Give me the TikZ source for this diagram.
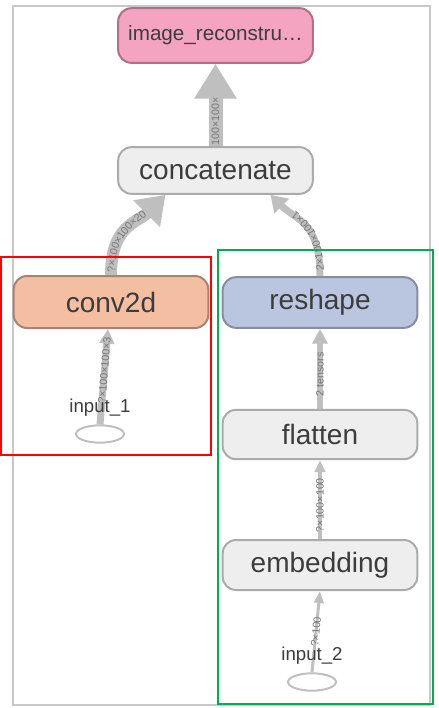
\documentclass[tikz,border=0pt]{standalone}
\usepackage{fontspec}
\setmainfont{Liberation Sans}
\usetikzlibrary{arrows.meta, calc, decorations.text, positioning, shapes.geometric}

\definecolor{pinkfill}{HTML}{F4A4C0}
\definecolor{pinkline}{HTML}{B0708A}
\definecolor{salmonfill}{HTML}{F4BEA2}
\definecolor{salmonline}{HTML}{A88372}
\definecolor{bluefill}{HTML}{BAC6E0}
\definecolor{blueline}{HTML}{858D9F}
\definecolor{greyfill}{HTML}{EEEEEE}
\definecolor{greyline}{HTML}{ABABAB}
\definecolor{edgegrey}{HTML}{BFBFBF}
\definecolor{labelgrey}{HTML}{777777}
\definecolor{nodetext}{HTML}{3C3C3C}
\definecolor{framegrey}{HTML}{C8C8C8}
\definecolor{boxred}{HTML}{FF0000}
\definecolor{boxgreen}{HTML}{00B050}

\newcommand\dimfont{\fontsize{8}{9}\selectfont\color{labelgrey}}

\begin{document}
\begin{tikzpicture}[x=0.75pt, y=-0.75pt,
    op/.style       = {draw, rectangle, rounded corners=10pt, line width=1.5pt,
                       minimum width=146pt, minimum height=37pt, text=nodetext,
                       font=\fontsize{21}{25}\selectfont},
    greyop/.style   = {op, fill=greyfill, draw=greyline},
    feed/.style     = {draw=edgegrey, ellipse, line width=1.5pt, inner sep=0pt,
                       minimum width=36pt, minimum height=13pt},
    feedname/.style = {text=nodetext, inner sep=0pt, font=\fontsize{14}{16}\selectfont},
    flow/.style     = {draw=edgegrey},
    dimlabel/.style = {sloped, inner sep=0pt, font=\dimfont},
    curvelabel/.style = {postaction={decorate, decoration={text along path, raise=-2.9pt,
                         text align={left indent=#1}}}},
    groupbox/.style = {line width=1.5pt}
]

\useasboundingbox (0,0) rectangle (439,708);
\draw [framegrey, line width=0.9pt] (13,6) rectangle (430,705);

\node [op, fill=pinkfill, draw=pinkline, minimum height=41pt,
       font=\fontsize{15.5}{18}\selectfont]                          at (215.5,35.5) (recon)   {image\_reconstru…};
\node [greyop, minimum height=35pt]                                  at (215.5,170.5) (concat) {concatenate};
\node [op, fill=salmonfill, draw=salmonline, minimum height=39pt]    at (111,302)   (conv)    {conv2d};
\node [op, fill=bluefill, draw=blueline, minimum height=38pt]        at (320,302.5) (reshape) {reshape};
\node [greyop]                                                       at (320,434.5) (flatten) {flatten};
\node [greyop, minimum height=37.5pt]                                at (320,565)   (embed)   {embedding};
\node [feed]                                                         at (100,434)   (in1)     {};
\node [feed]                                                         at (312,682)   (in2)     {};

% tensors flowing up
\draw [flow, line width=10.5pt, -{Triangle[width=30pt, length=26pt]}] (concat) -- (recon)
      node [dimlabel, pos=0.3] {100×100×};
\draw [flow, line width=9pt, -{Triangle[width=27pt, length=20pt]},
       curvelabel=2pt, decoration={text={|\dimfont|?×100×100×20}}]
      (conv.north) .. controls +(0,-50) and +(-28,28) .. ($(concat.south)+(-50,0)$);
\draw [flow, line width=5.25pt, -{Triangle[width=15pt, length=12pt]},
       curvelabel=4pt, decoration={text={|\dimfont|2×100×100×1}}]
      (reshape.north) .. controls +(0,-55) and +(25,25) .. ($(concat.south)+(55,0)$);
\draw [flow, line width=5.25pt, -{Triangle[width=11pt, length=11pt]}] (in1.north) -- ($(conv.south)+(-3,0)$)
      node [dimlabel, pos=0.57] {?×100×100×3};
\draw [flow, line width=5pt, -{Triangle[width=11pt, length=11pt]}] (flatten) -- (reshape)
      node [dimlabel, pos=0.43] {2 tensors};
\draw [flow, line width=3pt, -{Triangle[width=8pt, length=9pt]}] (embed) -- (flatten)
      node [dimlabel, pos=0.43] {?×100×100};
\draw [flow, line width=2.25pt, -{Triangle[width=7pt, length=9pt]}] (in2.north) -- (embed.south)
      node [dimlabel, pos=0.5] {?×100};

\node [feedname, above=6pt of in1] (in1name) {input\_1};
\node [feedname, above=6pt of in2] (in2name) {input\_2};

% groups
\draw [groupbox, boxred]   (1,257)   rectangle (211,455);
\draw [groupbox, boxgreen] (218,250) rectangle (433,704);

\end{tikzpicture}
\end{document}
